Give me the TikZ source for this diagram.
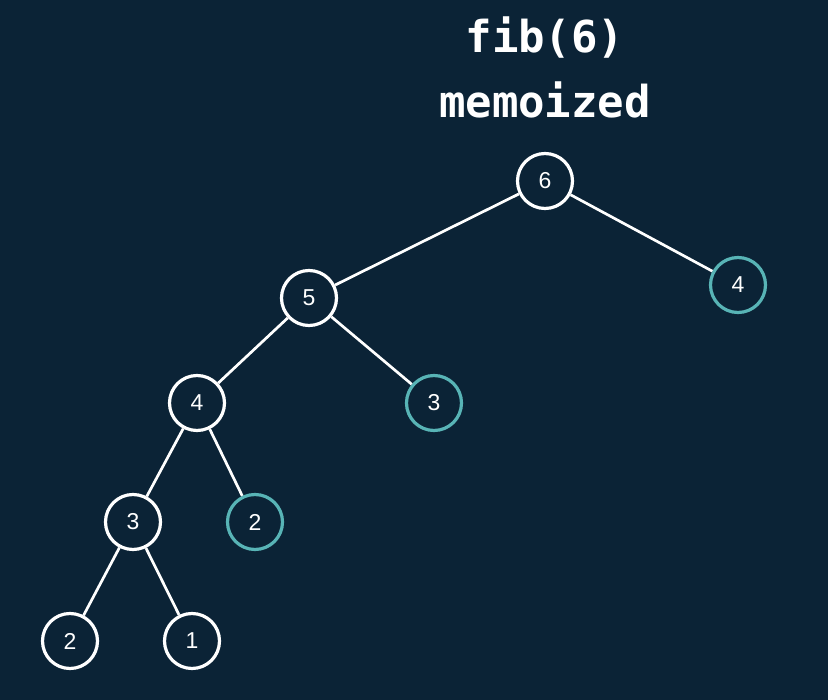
\documentclass[tikz,border=0pt]{standalone}
\usepackage{fontspec}
\setmainfont{Liberation Sans}
\newfontfamily\titlefont{DejaVu Sans Mono}
\definecolor{bg}{HTML}{0B2336}
\definecolor{teal}{HTML}{58B4B6}
\begin{document}
\begin{tikzpicture}[x=1pt,y=-1pt,
  nd/.style={circle,draw=white,line width=3.2pt,fill=bg,minimum size=55pt,inner sep=0pt,text=white,font=\fontsize{23}{26}\selectfont},
  memo/.style={nd,draw=teal},
  ln/.style={draw=white,line width=2.7pt},
  ttl/.style={text=white,font=\titlefont\bfseries\fontsize{44}{48}\selectfont}]
\fill[bg] (0,0) rectangle (828,700);
\useasboundingbox (0,0) rectangle (828,700);
\node[ttl] (t1) at (545,38) {fib(6)};
\node[ttl] (t2) at (545,100) {memoized};
\node[nd] (n6) at (545,181) {6};
\node[nd] (n5) at (309,298) {5};
\node[memo] (m4) at (738,285) {4};
\node[nd] (n4) at (197,403) {4};
\node[memo] (m3) at (434,403) {3};
\node[nd] (n3) at (133,522) {3};
\node[memo] (m2) at (255,522) {2};
\node[nd] (n2) at (70,641) {2};
\node[nd] (n1) at (192,641) {1};
\draw[ln] (n6) -- (n5);
\draw[ln] (n6) -- (m4);
\draw[ln] (n5) -- (n4);
\draw[ln] (n5) -- (m3);
\draw[ln] (n4) -- (n3);
\draw[ln] (n4) -- (m2);
\draw[ln] (n3) -- (n2);
\draw[ln] (n3) -- (n1);
\end{tikzpicture}
\end{document}
